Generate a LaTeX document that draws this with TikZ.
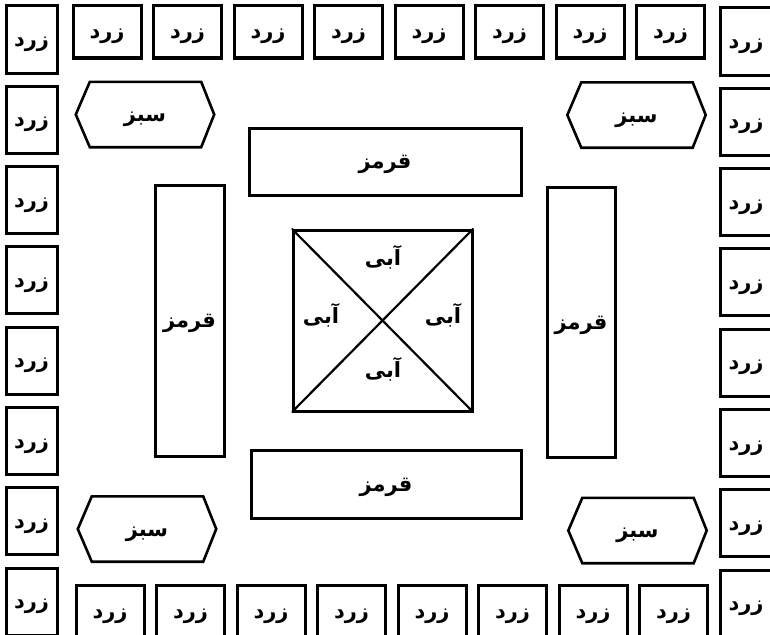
\documentclass[tikz,border=0pt]{standalone}
\usepackage{fontspec}
\TeXXeTstate=1
\newfontfamily\arabicfont[Script=Arabic]{DejaVu Sans}
\newcommand\artxt[1]{\raisebox{-7pt}[0pt][0pt]{\beginR #1\endR}}
\begin{document}
\begin{tikzpicture}[x=1pt,y=-1pt,
  lbl/.style={font=\arabicfont\bfseries\fontsize{21}{24}\selectfont},
  tallbox/.style={draw,line width=3pt,minimum width=51pt,minimum height=67pt,inner sep=0pt,lbl},
  widebox/.style={draw,line width=3pt,minimum width=68pt,minimum height=52pt,inner sep=0pt,lbl},
  redbox/.style={draw,line width=3pt,inner sep=0pt,lbl},
  hexnode/.style={minimum width=138pt,minimum height=65pt,inner sep=0pt,lbl},
  hexline/.style={line width=2.6pt,line join=miter},
  blue/.style={inner sep=0pt,lbl}]
\useasboundingbox (0,0) rectangle (770,634);
\clip (0,0) rectangle (770,634);
% left and right columns
\foreach \i in {0,...,7}{
  \node[tallbox] (L\i) at (31.5,{39.5+80.3*\i}) {\artxt{زرد}};
  \node[tallbox] (R\i) at (746,{41.5+80.3*\i}) {\artxt{زرد}};
}
% top and bottom rows
\foreach \i in {0,...,7}{
  \node[widebox] (T\i) at ({107+80.5*\i},32) {\artxt{زرد}};
  \node[widebox] (B\i) at ({110+80.5*\i},611) {\artxt{زرد}};
}
% hexagons
\foreach \n/\x/\y in {h1/145/114.5, h2/636.5/115, h3/147/529, h4/637.5/530.5}{
  \node[hexnode] (\n) at (\x,\y) {\artxt{سبز}};
  \draw[hexline] ([xshift=14pt]\n.north west) -- ([xshift=-13pt]\n.north east) -- (\n.east)
     -- ([xshift=-13pt]\n.south east) -- ([xshift=14pt]\n.south west) -- (\n.west) -- cycle;
}
% red boxes
\node[redbox,minimum width=272pt,minimum height=67pt] (rt) at (385,161.5) {\artxt{قرمز}};
\node[redbox,minimum width=270pt,minimum height=68pt] (rb) at (386,484) {\artxt{قرمز}};
\node[redbox,minimum width=69pt,minimum height=271pt] (rl) at (189.5,320.5) {\artxt{قرمز}};
\node[redbox,minimum width=68pt,minimum height=270pt] (rr) at (581,322) {\artxt{قرمز}};
% center square
\node[draw,line width=3pt,minimum width=179pt,minimum height=181pt,inner sep=0pt] (sq) at (382.5,320.5) {};
\begin{scope}
\clip (sq.north west) rectangle (sq.south east);
\draw[line width=2.2pt] (sq.north west) -- (sq.south east);
\draw[line width=2.2pt] (sq.north east) -- (sq.south west);
\end{scope}
\node[blue] (bt) at (383,258) {\artxt{آبی}};
\node[blue] (bl) at (321,316) {\artxt{آبی}};
\node[blue] (br) at (443,316) {\artxt{آبی}};
\node[blue] (bb) at (383,370) {\artxt{آبی}};
\end{tikzpicture}
\end{document}
